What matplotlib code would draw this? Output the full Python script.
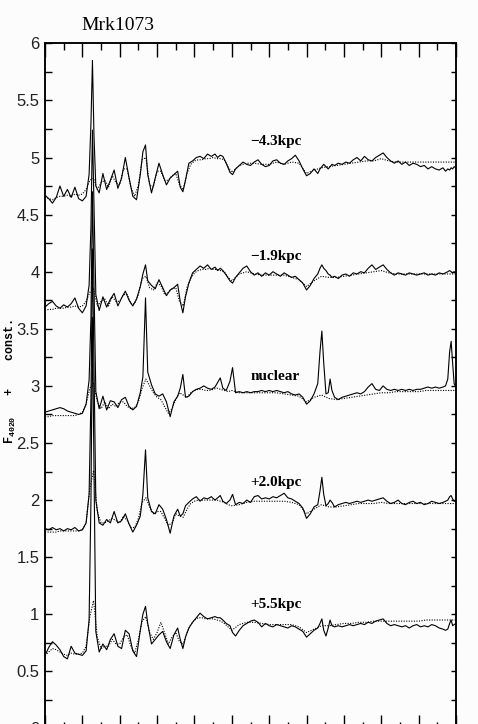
import matplotlib
matplotlib.use('Agg')
import matplotlib.pyplot as plt
from matplotlib.ticker import MultipleLocator, FuncFormatter

# wavelength grid of the observed spectra (Angstrom)
wave = [
    3600, 3610, 3620, 3630, 3640, 3650, 3660, 3670, 3680, 3690,
    3700, 3710, 3718, 3723, 3727, 3731, 3736, 3745, 3755, 3765,
    3775, 3785, 3795, 3805, 3815, 3825, 3835, 3845, 3855, 3862,
    3869, 3875, 3885, 3895, 3905, 3915, 3925, 3935, 3945, 3955,
    3962, 3969, 3976, 3985, 3995, 4005, 4015, 4025, 4035, 4045,
    4055, 4062, 4069, 4076, 4085, 4095, 4102, 4110, 4120, 4130,
    4140, 4150, 4160, 4170, 4180, 4190, 4200, 4210, 4220, 4230,
    4240, 4250, 4260, 4270, 4280, 4290, 4300, 4310, 4320, 4330,
    4336, 4341, 4346, 4352, 4358, 4363, 4368, 4375, 4385, 4395,
    4405, 4415, 4425, 4435, 4445, 4455, 4465, 4475, 4485, 4495,
    4505, 4515, 4525, 4535, 4545, 4555, 4565, 4575, 4585, 4595,
    4605, 4615, 4625, 4635, 4645, 4655, 4665, 4672, 4678, 4683,
    4687, 4691, 4695, 4700]

# observed spectra (F/F4020 + const.)
obs_m43 = [
    4.67, 4.64, 4.60, 4.65, 4.75, 4.66, 4.72, 4.65, 4.74, 4.64,
    4.62, 4.66, 4.85, 5.30, 5.85, 5.20, 4.75, 4.69, 4.86, 4.72,
    4.80, 4.89, 4.73, 4.82, 5.00, 4.82, 4.66, 4.63, 4.85, 5.05,
    5.11, 4.85, 4.69, 4.82, 4.95, 4.85, 4.76, 4.82, 4.85, 4.88,
    4.74, 4.70, 4.80, 4.95, 4.97, 5.00, 5.01, 4.99, 5.03, 5.01,
    5.03, 5.00, 5.02, 5.01, 4.95, 4.87, 4.85, 4.90, 4.93, 4.96,
    4.94, 4.93, 4.96, 4.98, 4.94, 4.92, 4.93, 4.97, 4.98, 4.95,
    4.94, 4.97, 4.99, 5.02, 4.97, 4.90, 4.84, 4.86, 4.90, 4.86,
    4.90, 4.92, 4.94, 4.92, 4.90, 4.92, 4.94, 4.93, 4.95, 4.94,
    4.96, 4.95, 4.98, 5.00, 4.97, 5.01, 4.98, 4.97, 5.00, 5.02,
    5.04, 5.00, 4.97, 4.95, 4.97, 4.94, 4.96, 4.93, 4.95, 4.94,
    4.92, 4.93, 4.90, 4.92, 4.90, 4.89, 4.91, 4.88, 4.90, 4.89,
    4.91, 4.90, 4.92, 4.91]

obs_m19 = [
    3.69, 3.72, 3.74, 3.70, 3.68, 3.71, 3.69, 3.72, 3.77, 3.68,
    3.64, 3.70, 3.88, 4.40, 5.24, 4.60, 3.80, 3.66, 3.78, 3.69,
    3.76, 3.81, 3.70, 3.77, 3.83, 3.75, 3.70, 3.76, 3.87, 3.98,
    4.06, 3.92, 3.88, 3.85, 3.93, 3.86, 3.79, 3.84, 3.86, 3.89,
    3.74, 3.64, 3.78, 3.90, 3.99, 4.02, 4.05, 4.03, 4.06, 4.02,
    4.04, 4.01, 4.03, 4.01, 3.97, 3.92, 3.90, 3.95, 3.99, 4.03,
    4.05, 4.00, 3.97, 3.99, 3.96, 3.99, 3.97, 4.00, 3.98, 3.96,
    3.99, 3.97, 3.95, 3.96, 3.93, 3.90, 3.84, 3.88, 3.94, 3.98,
    4.03, 4.06, 4.03, 4.01, 3.98, 3.97, 3.95, 3.96, 3.94, 3.97,
    3.98, 3.96, 3.99, 3.98, 4.00, 3.99, 4.03, 4.06, 4.02, 4.04,
    4.06, 4.02, 3.99, 3.97, 3.99, 3.98, 3.97, 3.99, 3.98, 3.97,
    3.98, 3.99, 3.97, 3.98, 3.97, 3.99, 3.98, 3.99, 4.00, 4.01,
    4.00, 3.99, 4.00, 3.99]

obs_nuc = [
    2.77, 2.78, 2.79, 2.80, 2.81, 2.80, 2.78, 2.77, 2.76, 2.75,
    2.76, 2.84, 3.05, 3.60, 4.70, 3.90, 2.95, 2.80, 2.91, 2.79,
    2.87, 2.86, 2.81, 2.88, 2.90, 2.82, 2.79, 2.82, 2.94, 3.08,
    3.77, 3.12, 3.01, 2.93, 2.91, 2.93, 2.86, 2.73, 2.86, 2.91,
    2.98, 3.10, 2.90, 2.91, 2.95, 2.97, 2.98, 3.00, 2.98, 2.97,
    2.99, 3.03, 3.07, 2.98, 2.96, 3.04, 3.16, 2.94, 2.95, 2.94,
    2.95, 2.94, 2.95, 2.95, 2.96, 2.95, 2.96, 2.95, 2.96, 2.95,
    2.94, 2.95, 2.93, 2.92, 2.93, 2.90, 2.84, 2.87, 2.93, 3.02,
    3.30, 3.48, 3.20, 2.93, 2.94, 3.06, 2.96, 2.90, 2.88, 2.90,
    2.91, 2.92, 2.93, 2.94, 2.93, 2.95, 2.99, 3.02, 2.97, 2.96,
    3.00, 2.97, 2.96, 2.97, 2.96, 2.97, 2.96, 2.97, 2.96, 2.97,
    2.97, 2.98, 2.99, 2.98, 2.99, 2.98, 2.99, 3.00, 3.06, 3.30,
    3.39, 3.20, 3.02, 2.99]

obs_p20 = [
    1.75, 1.74, 1.76, 1.74, 1.75, 1.73, 1.75, 1.74, 1.76, 1.73,
    1.74, 1.80, 2.05, 2.90, 4.20, 3.20, 2.00, 1.80, 1.78, 1.83,
    1.80, 1.90, 1.80, 1.82, 1.88, 1.79, 1.72, 1.78, 1.86, 2.05,
    2.44, 2.02, 1.90, 1.88, 1.96, 1.92, 1.83, 1.71, 1.86, 1.92,
    1.86, 1.88, 1.95, 1.98, 2.01, 2.03, 1.99, 2.02, 2.01, 2.03,
    2.00, 2.02, 2.04, 1.99, 1.97, 2.00, 2.05, 1.96, 1.98, 1.97,
    2.00, 1.98, 2.03, 2.04, 2.01, 2.02, 2.01, 2.03, 2.02, 2.04,
    2.06, 2.02, 2.01, 1.99, 1.97, 1.93, 1.84, 1.88, 1.94, 1.96,
    2.08, 2.20, 2.05, 1.95, 1.97, 2.00, 1.98, 1.94, 1.96, 1.97,
    1.98, 1.97, 1.98, 1.99, 1.98, 1.99, 2.00, 1.99, 2.00, 2.01,
    2.02, 1.99, 1.97, 1.98, 2.00, 1.97, 1.96, 1.98, 1.99, 1.97,
    1.98, 1.96, 1.97, 1.99, 1.98, 1.97, 1.98, 1.99, 2.00, 2.03,
    2.04, 2.01, 1.99, 1.99]

obs_p55 = [
    0.64, 0.71, 0.76, 0.73, 0.69, 0.63, 0.61, 0.72, 0.66, 0.65,
    0.64, 0.68, 0.95, 2.00, 3.60, 2.30, 0.85, 0.67, 0.74, 0.69,
    0.78, 0.83, 0.72, 0.70, 0.86, 0.83, 0.68, 0.63, 0.86, 1.00,
    1.07, 0.92, 0.74, 0.78, 0.82, 0.85, 0.76, 0.70, 0.82, 0.88,
    0.78, 0.70, 0.80, 0.88, 0.93, 0.97, 1.01, 0.98, 0.96, 0.97,
    0.98, 0.97, 0.97, 0.95, 0.92, 0.90, 0.84, 0.81, 0.86, 0.90,
    0.92, 0.94, 0.95, 0.93, 0.89, 0.92, 0.90, 0.89, 0.91, 0.90,
    0.89, 0.88, 0.90, 0.89, 0.87, 0.85, 0.80, 0.83, 0.86, 0.88,
    0.92, 0.96, 0.86, 0.81, 0.88, 0.95, 0.90, 0.89, 0.90, 0.89,
    0.90, 0.91, 0.90, 0.91, 0.92, 0.91, 0.93, 0.92, 0.94, 0.95,
    0.96, 0.92, 0.90, 0.91, 0.90, 0.89, 0.90, 0.88, 0.90, 0.91,
    0.89, 0.90, 0.89, 0.91, 0.90, 0.88, 0.87, 0.86, 0.87, 0.92,
    0.95, 0.90, 0.91, 0.92]

# synthesis model fits (dotted)
model_wave = [
    3600, 3610, 3620, 3630, 3640, 3650, 3660, 3670, 3680, 3690,
    3700, 3710, 3720, 3730, 3740, 3750, 3760, 3770, 3780, 3790,
    3800, 3810, 3820, 3830, 3840, 3850, 3860, 3870, 3880, 3890,
    3900, 3910, 3920, 3930, 3940, 3950, 3960, 3970, 3980, 3990,
    4000, 4010, 4020, 4030, 4040, 4050, 4060, 4070, 4080, 4090,
    4100, 4120, 4140, 4160, 4180, 4200, 4220, 4240, 4260, 4280,
    4300, 4320, 4340, 4360, 4380, 4400, 4420, 4440, 4460, 4480,
    4500, 4520, 4540, 4560, 4580, 4600, 4620, 4640, 4660, 4680,
    4700]

mod_m43 = [
    4.65, 4.64, 4.63, 4.65, 4.66, 4.66, 4.67, 4.66, 4.68, 4.67,
    4.68, 4.72, 4.80, 4.82, 4.72, 4.78, 4.80, 4.74, 4.84, 4.78,
    4.76, 4.90, 4.90, 4.74, 4.66, 4.76, 4.98, 5.00, 4.76, 4.74,
    4.88, 4.88, 4.80, 4.80, 4.84, 4.86, 4.76, 4.72, 4.86, 4.94,
    4.97, 4.98, 4.98, 4.99, 4.99, 5.00, 4.99, 4.99, 4.98, 4.92,
    4.87, 4.93, 4.95, 4.95, 4.94, 4.94, 4.96, 4.94, 4.96, 4.95,
    4.86, 4.89, 4.91, 4.92, 4.93, 4.94, 4.95, 4.96, 4.97, 4.97,
    4.99, 4.97, 4.96, 4.96, 4.96, 4.96, 4.96, 4.96, 4.96, 4.96,
    4.96]

mod_m19 = [
    3.66, 3.67, 3.67, 3.68, 3.68, 3.68, 3.69, 3.69, 3.70, 3.69,
    3.70, 3.74, 3.82, 3.85, 3.70, 3.74, 3.76, 3.70, 3.78, 3.74,
    3.74, 3.80, 3.80, 3.72, 3.72, 3.80, 3.94, 3.96, 3.86, 3.84,
    3.90, 3.88, 3.80, 3.82, 3.85, 3.86, 3.74, 3.70, 3.86, 3.94,
    3.99, 4.01, 4.02, 4.02, 4.03, 4.02, 4.02, 4.01, 4.00, 3.95,
    3.92, 3.98, 4.00, 3.98, 3.97, 3.97, 3.97, 3.97, 3.95, 3.93,
    3.87, 3.92, 3.96, 3.95, 3.95, 3.96, 3.97, 3.98, 3.99, 4.00,
    4.01, 3.99, 3.98, 3.98, 3.98, 3.98, 3.98, 3.98, 3.98, 3.98,
    3.98]

mod_nuc = [
    2.73, 2.73, 2.74, 2.74, 2.74, 2.74, 2.74, 2.74, 2.74, 2.75,
    2.77, 2.84, 2.98, 3.02, 2.86, 2.80, 2.86, 2.80, 2.84, 2.82,
    2.86, 2.86, 2.82, 2.80, 2.81, 2.86, 2.98, 3.06, 3.00, 2.94,
    2.90, 2.88, 2.82, 2.76, 2.80, 2.88, 2.94, 2.92, 2.90, 2.94,
    2.96, 2.97, 2.97, 2.96, 2.96, 2.97, 2.98, 2.97, 2.96, 2.95,
    2.96, 2.94, 2.94, 2.94, 2.94, 2.94, 2.94, 2.93, 2.92, 2.91,
    2.86, 2.90, 2.92, 2.89, 2.88, 2.89, 2.90, 2.91, 2.92, 2.93,
    2.94, 2.94, 2.95, 2.95, 2.95, 2.95, 2.96, 2.96, 2.96, 2.96,
    2.96]

mod_p20 = [
    1.72, 1.72, 1.72, 1.72, 1.73, 1.73, 1.73, 1.73, 1.73, 1.73,
    1.74, 1.80, 2.10, 2.26, 1.90, 1.80, 1.80, 1.82, 1.84, 1.82,
    1.80, 1.86, 1.82, 1.76, 1.76, 1.84, 1.98, 2.02, 1.94, 1.88,
    1.90, 1.90, 1.84, 1.78, 1.80, 1.88, 1.86, 1.85, 1.92, 1.97,
    1.99, 2.00, 2.00, 2.00, 2.00, 2.00, 2.00, 1.99, 1.98, 1.96,
    1.95, 1.96, 1.98, 1.99, 1.99, 1.99, 1.99, 1.99, 1.98, 1.96,
    1.88, 1.92, 1.96, 1.94, 1.94, 1.95, 1.96, 1.97, 1.97, 1.97,
    1.98, 1.97, 1.97, 1.97, 1.97, 1.97, 1.97, 1.97, 1.97, 1.97,
    1.97]

mod_p55 = [
    0.64, 0.67, 0.70, 0.69, 0.67, 0.65, 0.64, 0.66, 0.65, 0.65,
    0.66, 0.72, 0.98, 1.12, 0.80, 0.70, 0.72, 0.72, 0.78, 0.74,
    0.74, 0.80, 0.82, 0.72, 0.66, 0.78, 0.94, 0.98, 0.84, 0.78,
    0.84, 0.93, 0.84, 0.74, 0.80, 0.84, 0.76, 0.74, 0.84, 0.91,
    0.95, 0.97, 0.97, 0.96, 0.96, 0.96, 0.95, 0.94, 0.92, 0.89,
    0.86, 0.91, 0.93, 0.93, 0.92, 0.91, 0.91, 0.91, 0.91, 0.89,
    0.84, 0.87, 0.90, 0.90, 0.91, 0.92, 0.92, 0.93, 0.93, 0.94,
    0.94, 0.94, 0.94, 0.94, 0.94, 0.94, 0.95, 0.95, 0.95, 0.95,
    0.95]

labels = ['\u22124.3kpc', '\u22121.9kpc', 'nuclear', '+2.0kpc', '+5.5kpc']
label_y = [5.14, 4.13, 3.08, 2.15, 1.09]

observed = [obs_m43, obs_m19, obs_nuc, obs_p20, obs_p55]
models = [mod_m43, mod_m19, mod_nuc, mod_p20, mod_p55]

plt.rcParams['mathtext.fontset'] = 'custom'
plt.rcParams['mathtext.rm'] = 'Liberation Mono:bold'
plt.rcParams['mathtext.it'] = 'Liberation Mono:bold'
plt.rcParams['mathtext.bf'] = 'Liberation Mono:bold'

bg = '#fcfcfc'
fig = plt.figure(figsize=(4.78, 7.24), dpi=100, facecolor=bg)
# the bottom axis sits just below the lower edge of the picture
ax = fig.add_axes([45 / 478, -4.5 / 724, 411 / 478, 685.2 / 724])
ax.set_facecolor(bg)

for flux, model, name, ly in zip(observed, models, labels, label_y):
    ax.plot(model_wave, model, color='k', lw=0.8, ls=(0, (1, 1.3)), zorder=2)
    ax.plot(wave, flux, color='k', lw=0.8, zorder=3)
    ax.text(4150, ly, name, family='Liberation Serif', weight='bold',
            fontsize=11, ha='left', va='center')

ax.set_xlim(3600, 4700)
ax.set_ylim(0, 6)
ax.xaxis.set_major_locator(MultipleLocator(100))
ax.xaxis.set_minor_locator(MultipleLocator(50))
ax.yaxis.set_major_locator(MultipleLocator(0.5))
ax.yaxis.set_minor_locator(MultipleLocator(0.25))
ax.yaxis.set_major_formatter(FuncFormatter(lambda v, p: '%g' % v))

ax.tick_params(axis='x', which='major', direction='in', length=10, width=1,
               top=True, bottom=True, labelbottom=False)
ax.tick_params(axis='x', which='minor', direction='in', length=5, width=1,
               top=True, bottom=True)
ax.tick_params(axis='y', which='both', direction='in', length=5, width=1,
               left=True, right=False, pad=4)
for lab in ax.get_yticklabels():
    lab.set_family('Liberation Sans')
    lab.set_fontsize(12)
    lab.set_color('#222222')
for sp in ax.spines.values():
    sp.set_linewidth(1.1)

# shorter ticks on the right side
ax2 = ax.twinx()
ax2.set_ylim(0, 6)
ax2.yaxis.set_major_locator(MultipleLocator(0.5))
ax2.yaxis.set_minor_locator(MultipleLocator(0.25))
ax2.tick_params(axis='y', which='both', direction='in', length=3.5, width=1,
                labelright=False)
for sp in ax2.spines.values():
    sp.set_linewidth(1.1)

fig.text(118 / 478, 1 - 25 / 724, 'Mrk1073', family='Liberation Serif',
         fontsize=14, ha='center', va='center')
fig.text(10 / 478, 1 - 381 / 724, r'F$_{4020}$   +    const.', rotation=90,
         family='Liberation Mono', weight='bold', fontsize=8.5,
         ha='center', va='center')

fig.savefig('out.png', dpi=100, facecolor=bg)
